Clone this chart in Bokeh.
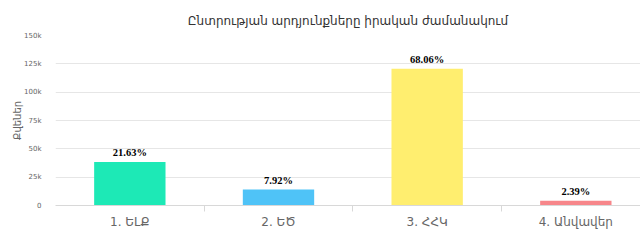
from bokeh.plotting import figure
from bokeh.models import ColumnDataSource, FixedTicker, LabelSet, Title
from bokeh.embed import file_html
from bokeh.resources import INLINE

categories = ["1. ԵԼՔ", "2. ԵԾ", "3. ՀՀԿ", "4. Անվավեր"]
votes = [38300, 14040, 120600, 4240]
percents = ["21.63%", "7.92%", "68.06%", "2.39%"]
colors = ["#1DE9B6", "#4FC3F7", "#FFEE6F", "#F7868A"]
y_ticks = [0, 25000, 50000, 75000, 100000, 125000, 150000]
y_tick_labels = ["0", "25k", "50k", "75k", "100k", "125k", "150k"]

xs = [i + 0.5 for i in range(len(categories))]
src = ColumnDataSource(dict(x=xs, top=votes, pct=percents, color=colors))

p = figure(width=640, height=246, output_backend="svg", toolbar_location=None,
           x_range=(0, 3.935), y_range=(0, 150000),
           min_border_left=55, min_border_right=0, min_border_top=35, min_border_bottom=41)
p.outline_line_color = None
p.background_fill_color = "white"
p.border_fill_color = "white"

p.vbar(x="x", top="top", width=0.48, color="color", source=src, line_color=None)

labels = LabelSet(x="x", y="top", text="pct", source=src, text_align="center",
                  text_baseline="bottom", y_offset=4, text_font="Liberation Serif",
                  text_font_style="bold", text_font_size="10.5px", text_color="#000000")
p.add_layout(labels)

p.title = Title(text="Ընտրության արդյունքները իրական ժամանակում", align="center",
                text_font="DejaVu Sans", text_font_size="12px", text_font_style="normal",
                text_color="#333333", offset=0)
p.title.standoff = 16

# x axis
p.xaxis.ticker = FixedTicker(ticks=xs, minor_ticks=[1, 2, 3])
p.xaxis.major_label_overrides = {x: c for x, c in zip(xs, categories)}
p.xaxis.major_tick_line_color = None
p.xaxis.major_tick_out = 0
p.xaxis.major_tick_in = 0
p.xaxis.minor_tick_in = 0
p.xaxis.minor_tick_out = 6
p.xaxis.minor_tick_line_color = "#d8d8d8"
p.xaxis.axis_line_color = "#d8d8d8"
p.xaxis.major_label_text_font = "DejaVu Sans"
p.xaxis.major_label_text_font_size = "12px"
p.xaxis.major_label_text_color = "#666666"
p.xaxis.major_label_standoff = 3
p.xgrid.grid_line_color = None

# y axis
p.yaxis.ticker = FixedTicker(ticks=y_ticks)
p.yaxis.major_label_overrides = {t: l for t, l in zip(y_ticks, y_tick_labels)}
p.yaxis.axis_line_color = None
p.yaxis.major_tick_line_color = None
p.yaxis.minor_tick_line_color = None
p.yaxis.major_label_text_font = "DejaVu Sans"
p.yaxis.major_label_text_font_size = "7px"
p.yaxis.major_label_text_color = "#666666"
p.yaxis.major_label_standoff = 8
p.yaxis.axis_label = "Քվեներ"
p.yaxis.axis_label_text_font = "DejaVu Sans"
p.yaxis.axis_label_text_font_size = "10px"
p.yaxis.axis_label_text_font_style = "normal"
p.yaxis.axis_label_text_color = "#666666"
p.yaxis.axis_label_standoff = -2
p.ygrid.grid_line_color = "#e6e6e6"

open("out.html", "w").write(file_html(p, INLINE))
